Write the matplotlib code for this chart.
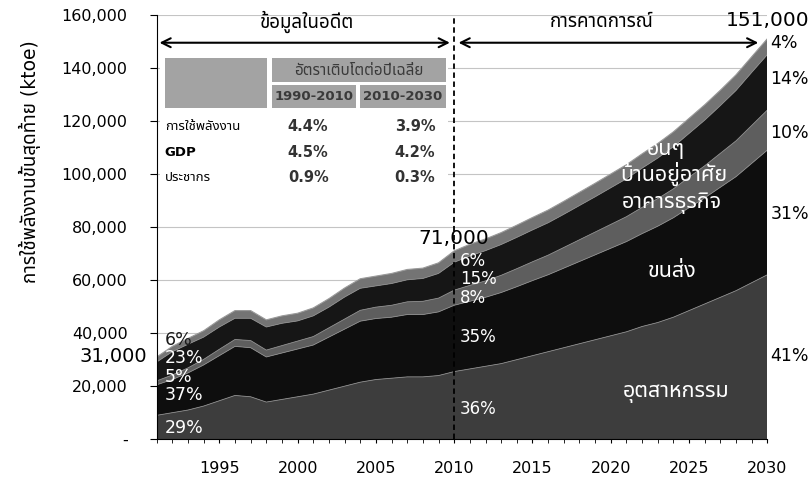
import matplotlib
matplotlib.use("Agg")
import matplotlib.pyplot as plt
from matplotlib.patches import Rectangle
import numpy as np

plt.rcParams["font.family"] = ["DejaVu Sans", "Noto Sans Thai", "Sarabun", "Athiti"]

# final energy consumption, thousand ktoe
years = list(range(1991, 2031))
industry = [9.0, 10.0, 11.0, 12.5, 14.5, 16.5, 16.0, 14.0, 15.0, 16.0,
            17.0, 18.5, 20.0, 21.5, 22.5, 23.0, 23.5, 23.5, 24.0, 25.5,
            26.5, 27.5, 28.5, 30.0, 31.5, 33.0, 34.5, 36.0, 37.5, 39.0,
            40.5, 42.5, 44.0, 46.0, 48.5, 51.0, 53.5, 56.0, 59.0, 62.0]
transport = [11.5, 12.5, 14.0, 15.5, 17.0, 18.5, 18.5, 17.0, 17.5, 18.0,
             18.5, 20.0, 21.5, 23.0, 23.0, 23.0, 23.5, 23.5, 24.0, 25.0,
             25.5, 26.0, 26.8, 27.5, 28.3, 29.0, 30.0, 31.0, 32.0, 33.0,
             34.0, 35.0, 36.3, 37.5, 38.8, 40.0, 41.5, 43.0, 45.0, 47.0]
commercial = [1.5, 1.7, 1.9, 2.1, 2.4, 2.6, 2.7, 2.6, 2.8, 3.0,
              3.2, 3.5, 3.8, 4.1, 4.3, 4.5, 4.8, 5.0, 5.2, 5.7,
              6.0, 6.2, 6.5, 6.8, 7.1, 7.4, 7.8, 8.2, 8.6, 9.0,
              9.4, 9.9, 10.4, 10.9, 11.5, 12.1, 12.8, 13.5, 14.3, 15.1]
residential = [7.1, 8.8, 8.9, 8.4, 8.4, 8.0, 8.4, 8.7, 8.4, 7.6,
               7.8, 7.8, 8.3, 8.3, 8.0, 8.2, 8.3, 8.6, 9.3, 10.5,
               11.1, 11.4, 11.6, 11.8, 12.0, 12.2, 12.5, 12.9, 13.3, 13.8,
               14.3, 14.8, 15.3, 15.9, 16.5, 17.2, 18.0, 19.0, 20.0, 20.9]
others = [1.9, 2.0, 2.2, 2.4, 2.7, 2.9, 2.9, 2.7, 2.8, 2.9,
          3.0, 3.2, 3.4, 3.6, 3.7, 3.8, 3.9, 3.9, 4.0, 4.3,
          4.4, 4.4, 4.5, 4.6, 4.7, 4.8, 4.9, 5.0, 5.1, 5.2,
          5.3, 5.4, 5.5, 5.6, 5.7, 5.8, 5.8, 5.9, 5.9, 6.0]

sector_names = ["อุตสาหกรรม", "ขนส่ง", "อาคารธุรกิจ", "บ้านอยู่อาศัย", "อื่นๆ"]
share_1991 = ["29%", "37%", "5%", "23%", "6%"]
share_2010 = ["36%", "35%", "8%", "15%", "6%"]
share_2030 = ["41%", "31%", "10%", "14%", "4%"]

table_rows = ["การใช้พลังงาน", "GDP", "ประชากร"]
growth_1990_2010 = ["4.4%", "4.5%", "0.9%"]
growth_2010_2030 = ["3.9%", "4.2%", "0.3%"]

colors = ["#3d3d3d", "#0e0e0e", "#5e5e5e", "#161616", "#747474"]

layers = np.array([industry, transport, commercial, residential, others]) * 1000
tops = layers.cumsum(axis=0)
total = tops[-1]

fig = plt.figure(figsize=(8.12, 4.8), dpi=100)
ax = fig.add_axes([0.193, 0.085, 0.752, 0.884])

ax.stackplot(years, layers, colors=colors, linewidth=0)
for i in range(4):
    ax.plot(years, tops[i], color="#8a8a8a", lw=0.6)
ax.plot(years, total, color="#9a9a9a", lw=0.8)

ax.set_xlim(1991, 2030)
ax.set_ylim(0, 160000)
ax.set_yticks(range(0, 160001, 20000))
ax.set_yticklabels(["-"] + [f"{v:,}" for v in range(20000, 160001, 20000)])
ax.set_xticks(range(1995, 2031, 5))
ax.set_xticks(years, minor=True)
ax.tick_params(axis="y", labelsize=11.5, length=5, pad=16)
ax.tick_params(axis="x", which="major", labelsize=11.5, length=3, pad=13)
ax.tick_params(axis="x", which="minor", length=3)
ax.grid(axis="y", color="#c4c4c4", lw=0.8)
ax.set_axisbelow(True)
for s in ["top", "right"]:
    ax.spines[s].set_visible(False)

ax.set_ylabel("การใช้พลังงานขั้นสุดท้าย (ktoe)", fontsize=13.5)
ax.yaxis.set_label_coords(-0.19, 0.655)

# 2010 split line
ax.axvline(2010, color="black", lw=1.3, ls=(0, (3, 2)))

# period arrows
ax.annotate("", xy=(1991, 149500), xytext=(2009.9, 149500),
            arrowprops=dict(arrowstyle="<->", lw=1.5, color="black", mutation_scale=16))
ax.annotate("", xy=(2010.1, 149500), xytext=(2029.6, 149500),
            arrowprops=dict(arrowstyle="<->", lw=1.5, color="black", mutation_scale=16))
ax.text(2000.6, 157500, "ข้อมูลในอดีต", ha="center", va="center", fontsize=13.5, fontweight="bold")
ax.text(2019.4, 157500, "การคาดการณ์", ha="center", va="center", fontsize=13.5, fontweight="bold")

# totals
ax.text(1990.4, 31000, f"{31000:,}", ha="right", va="center", fontsize=14, clip_on=False)
ax.text(2010, total[19] + 4800, f"{total[19]:,.0f}", ha="center", va="center", fontsize=14.5)
ax.text(2030, total[-1] + 7000, f"{total[-1]:,.0f}", ha="center", va="center", fontsize=14.5, clip_on=False)

# shares
y91 = [4300, 16500, 23500, 30500, 37500]
for i, (lab, y) in enumerate(zip(share_1991, y91)):
    ax.text(1991.5, y, lab, color="#1a1a1a" if i == 4 else "white", fontsize=12.5, va="center")
y10 = [11500, 38500, 53200, 60400, 67200]
for lab, y in zip(share_2010, y10):
    ax.text(2010.35, y, lab, color="white", fontsize=12, va="center")
y30 = [31500, 85000, 115500, 136000, 149500]
for lab, y in zip(share_2030, y30):
    ax.text(2030.2, y, lab, color="black", fontsize=12.5, va="center", clip_on=False)

# sector names
name_pos = [(2024.2, 17500), (2023.9, 63500), (2023.9, 89000), (2024.0, 100000), (2023.5, 110000)]
for name, (x, y) in zip(sector_names, name_pos):
    ax.text(x, y, name, color="white", fontsize=15.5, ha="center", va="center")

# growth table
tr = ax.transAxes
ax.add_patch(Rectangle((0.005, 0.583), 0.472, 0.33, transform=tr, facecolor="white",
                       edgecolor="none", zorder=3))
cell_col = "#a3a3a3"
ax.add_patch(Rectangle((0.013, 0.781), 0.167, 0.118, transform=tr, facecolor=cell_col, zorder=4))
ax.add_patch(Rectangle((0.189, 0.842), 0.285, 0.057, transform=tr, facecolor=cell_col, zorder=4))
ax.add_patch(Rectangle((0.189, 0.781), 0.137, 0.054, transform=tr, facecolor=cell_col, zorder=4))
ax.add_patch(Rectangle((0.333, 0.781), 0.141, 0.054, transform=tr, facecolor=cell_col, zorder=4))
ax.text(0.3315, 0.870, "อัตราเติบโตต่อปีเฉลี่ย", transform=tr, ha="center", va="center",
        fontsize=11, fontweight="bold", color="#3a3a3a", zorder=5)
ax.text(0.2575, 0.808, "1990-2010", transform=tr, ha="center", va="center",
        fontsize=9.5, fontweight="bold", color="#3a3a3a", zorder=5)
ax.text(0.4035, 0.808, "2010-2030", transform=tr, ha="center", va="center",
        fontsize=9.5, fontweight="bold", color="#3a3a3a", zorder=5)
row_y = [0.736, 0.675, 0.616]
for lab, a, b, y in zip(table_rows, growth_1990_2010, growth_2010_2030, row_y):
    ax.text(0.013, y, lab, transform=tr, ha="left", va="center", fontsize=9.5,
            fontweight="bold", zorder=5)
    ax.text(0.248, y, a, transform=tr, ha="center", va="center", fontsize=10.5,
            fontweight="bold", color="#333333", zorder=5)
    ax.text(0.423, y, b, transform=tr, ha="center", va="center", fontsize=10.5,
            fontweight="bold", color="#333333", zorder=5)

fig.savefig("out.png", dpi=100)
